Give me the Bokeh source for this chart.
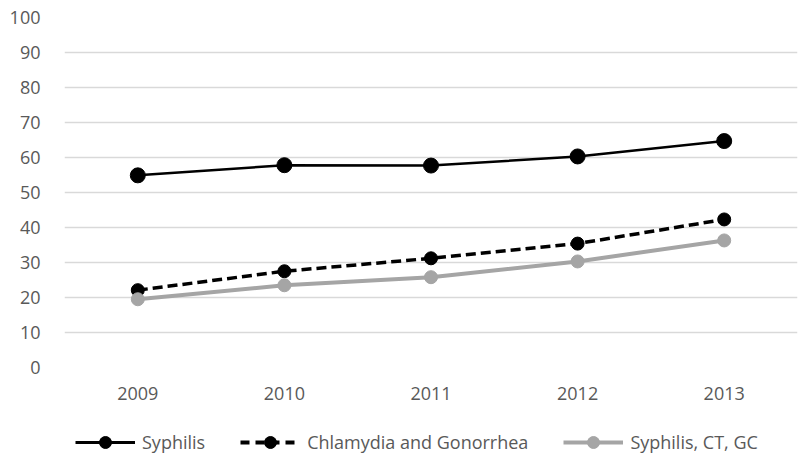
from bokeh.plotting import figure
from bokeh.layouts import column
from bokeh.models import Legend, LegendItem, FactorRange, Range1d
from bokeh.embed import file_html
from bokeh.resources import INLINE

years = ["2009", "2010", "2011", "2012", "2013"]
syphilis = [54.9, 57.8, 57.7, 60.3, 64.7]
ct_gc = [22.1, 27.5, 31.2, 35.4, 42.3]
syph_ct_gc = [19.5, 23.5, 25.8, 30.3, 36.3]
y_ticks = [0, 10, 20, 30, 40, 50, 60, 70, 80, 90, 100]
series_labels = ["Syphilis", "Chlamydia and Gonorrhea", "Syphilis, CT, GC"]

FONT = "Open Sans"
LABEL_COLOR = "#595959"
GRAY = "#a5a5a5"

p = figure(width=800, height=412, x_range=FactorRange(*years), y_range=Range1d(0, 100),
           output_backend="svg", toolbar_location=None,
           min_border_left=64, min_border_right=3, min_border_top=17, min_border_bottom=45)
p.outline_line_color = None
p.background_fill_color = "white"

p.xgrid.grid_line_color = None
p.ygrid.grid_line_color = "#d9d9d9"
p.ygrid.grid_line_width = 1.3
p.yaxis.ticker = y_ticks

for ax in (p.xaxis[0], p.yaxis[0]):
    ax.axis_line_color = None
    ax.major_tick_line_color = None
    ax.minor_tick_line_color = None
    ax.major_label_text_font = FONT
    ax.major_label_text_font_size = "18px"
    ax.major_label_text_color = LABEL_COLOR
p.yaxis.major_label_standoff = 18
p.xaxis.major_label_standoff = 13

p.line(years, syphilis, line_color="black", line_width=2.5)
p.scatter(years, syphilis, size=15, fill_color="black", line_color="black")
p.line(years, ct_gc, line_color="black", line_width=3.5, line_dash="10 5")
p.scatter(years, ct_gc, size=13, fill_color="black", line_color="black")
p.line(years, syph_ct_gc, line_color=GRAY, line_width=4)
p.scatter(years, syph_ct_gc, size=13, fill_color=GRAY, line_color=GRAY)

# legend strip below the chart (its series lie outside its visible range; only the legend shows)
lg = figure(width=800, height=46, x_range=FactorRange(*years), y_range=Range1d(1000, 1001),
            output_backend="svg", toolbar_location=None,
            min_border_left=64, min_border_right=3, min_border_top=0, min_border_bottom=0)
lg.axis.visible = False
lg.grid.visible = False
lg.outline_line_color = None

e1 = lg.line(years, syphilis, line_color="black", line_width=3)
m1 = lg.scatter(years, syphilis, size=12, fill_color="black", line_color="black")
e2 = lg.line(years, ct_gc, line_color="black", line_width=4, line_dash="9 6")
m2 = lg.scatter(years, ct_gc, size=12, fill_color="black", line_color="black")
e3 = lg.line(years, syph_ct_gc, line_color=GRAY, line_width=4)
m3 = lg.scatter(years, syph_ct_gc, size=12, fill_color=GRAY, line_color=GRAY)

legend = Legend(items=[
    LegendItem(label=series_labels[0], renderers=[e1, m1]),
    LegendItem(label=series_labels[1], renderers=[e2, m2]),
    LegendItem(label=series_labels[2], renderers=[e3, m3]),
], orientation="horizontal", location=(11, 1))
legend.border_line_color = None
legend.background_fill_alpha = 0
legend.label_text_font = FONT
legend.label_text_font_size = "18px"
legend.label_text_color = LABEL_COLOR
legend.glyph_width = 60
legend.glyph_height = 30
legend.label_standoff = 7
legend.spacing = 35
legend.margin = 0
legend.padding = 2
lg.add_layout(legend, "center")

layout = column(p, lg, spacing=0)
open("out.html", "w").write(file_html(layout, INLINE))
